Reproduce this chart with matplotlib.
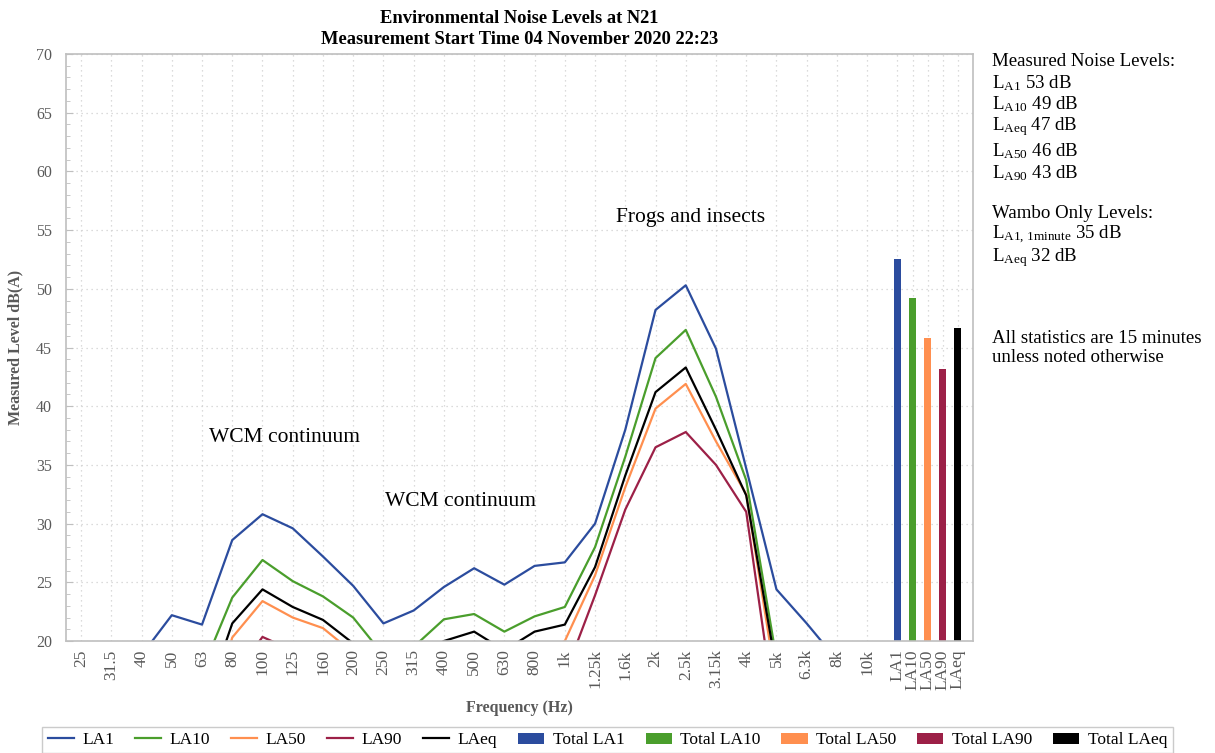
"""
Environmental noise levels at N21 - 1/3 octave spectra plus totals.
"""
import numpy as np
import matplotlib
matplotlib.use('Agg')
import matplotlib.pyplot as plt
from matplotlib.ticker import MultipleLocator

plt.rcParams['font.family'] = ['Liberation Serif', 'DejaVu Serif']
plt.rcParams['mathtext.fontset'] = 'custom'
plt.rcParams['mathtext.rm'] = 'Liberation Serif'
plt.rcParams['mathtext.it'] = 'Liberation Serif:italic'
plt.rcParams['mathtext.bf'] = 'Liberation Serif:bold'

# dados (dB(A)) por banda de 1/3 de oitava
freqs = ['25', '31.5', '40', '50', '63', '80', '100', '125', '160', '200', '250', '315',
         '400', '500', '630', '800', '1k', '1.25k', '1.6k', '2k', '2.5k', '3.15k', '4k',
         '5k', '6.3k', '8k', '10k']
la1 = [16.0, 17.2, 18.8, 22.2, 21.4, 28.6, 30.8, 29.6, 27.2, 24.7, 21.5, 22.6, 24.6, 26.2,
       24.8, 26.4, 26.7, 30.0, 38.0, 48.2, 50.3, 44.9, 34.7, 24.4, 21.5, 18.4, 16.5]
la10 = [14.5, 15.2, 16.0, 16.8, 17.5, 23.7, 26.9, 25.1, 23.8, 22.0, 18.8, 19.5, 21.85, 22.3,
        20.8, 22.1, 22.9, 28.0, 35.7, 44.1, 46.5, 40.8, 33.7, 18.5, 16.0, 14.0, 12.5]
la50 = [12.0, 12.8, 13.5, 14.0, 11.5, 20.3, 23.4, 22.0, 21.1, 19.0, 17.5, 17.2, 18.6, 19.2,
        18.0, 18.8, 20.0, 25.6, 33.1, 39.8, 41.9, 37.0, 32.5, 16.3, 13.5, 12.0, 11.0]
la90 = [10.0, 11.0, 11.5, 12.0, 13.0, 16.8, 20.35, 19.2, 18.0, 16.5, 15.0, 14.5, 15.5, 16.0,
        15.2, 16.0, 17.1, 23.9, 31.2, 36.5, 37.8, 35.0, 31.0, 13.0, 11.0, 10.0, 9.0]
laeq = [13.0, 14.0, 14.5, 14.8, 14.0, 21.5, 24.4, 22.9, 21.8, 19.8, 18.3, 18.6, 20.0, 20.8,
        19.2, 20.8, 21.4, 26.3, 34.1, 41.2, 43.3, 38.0, 32.4, 17.6, 14.5, 13.0, 12.0]

total_labels = ['LA1', 'LA10', 'LA50', 'LA90', 'LAeq']
totals = [52.5, 49.2, 45.8, 43.2, 46.7]

cores = ['#2B4C9E', '#4A9E2C', '#FF8F4F', '#9C2047', '#000000']
gray = '#595959'

fig = plt.figure(figsize=(12.15, 7.53), dpi=100)
ax = fig.add_axes([0.0543, 0.1487, 0.7465, 0.7796])

x = np.arange(len(freqs)) + 0.5
series = [('LA1', la1), ('LA10', la10), ('LA50', la50), ('LA90', la90), ('LAeq', laeq)]
handles = []
for (nome, vals), c in zip(series, cores):
    h, = ax.plot(x, vals, color=c, lw=1.6, label=nome)
    handles.append(h)

xb = len(freqs) + 0.5 + 0.5 * np.arange(len(totals))
for xi, v, nome, c in zip(xb, totals, total_labels, cores):
    b = ax.bar(xi, v, width=0.24, color=c, label='Total ' + nome)
    handles.append(b)

ax.set_xlim(0, len(freqs) + 3)
ax.set_ylim(20, 70)
ax.set_xticks(list(x) + list(xb))
ax.set_xticklabels(freqs + total_labels, rotation=90, fontsize=12.5, color=gray)
ax.tick_params(axis='x', length=0, pad=6)
ax.yaxis.set_major_locator(MultipleLocator(5))
ax.yaxis.set_minor_locator(MultipleLocator(1))
ax.tick_params(axis='y', which='both', direction='in', colors='#BFBFBF', labelcolor=gray,
               labelsize=11.5, pad=10)
ax.tick_params(axis='y', which='major', length=5)
ax.tick_params(axis='y', which='minor', length=3)
ax.grid(True, axis='both', color='#D0D0D0', linestyle=(0, (1, 3)), lw=0.9)
ax.set_axisbelow(True)
for s in ax.spines.values():
    s.set_color('#BFBFBF')
    s.set_linewidth(1.2)

ax.set_xlabel('Frequency (Hz)', fontsize=11.5, fontweight='bold', color=gray, labelpad=7)
ax.set_ylabel('Measured Level dB(A)', fontsize=11.5, fontweight='bold', color=gray, labelpad=9)
ax.set_title('Environmental Noise Levels at N21\nMeasurement Start Time 04 November 2020 22:23',
             fontsize=13.3, fontweight='bold', linespacing=1.3, pad=7)

# anotações
ax.text(4.73, 37.3, 'WCM continuum', fontsize=15.5, va='center', ha='left')
ax.text(10.55, 31.9, 'WCM continuum', fontsize=15.5, va='center', ha='left')
ax.text(18.19, 56.1, 'Frogs and insects', fontsize=15.5, va='center', ha='left')

# texto lateral
linhas = [
    ('Measured Noise Levels:', 62),
    (r'L$_{\mathrm{A1}}$ 53 dB', 83),
    (r'L$_{\mathrm{A10}}$ 49 dB', 104),
    (r'L$_{\mathrm{Aeq}}$ 47 dB', 127),
    (r'L$_{\mathrm{A50}}$ 46 dB', 151),
    (r'L$_{\mathrm{A90}}$ 43 dB', 173),
    ('Wambo Only Levels:', 213),
    (r'L$_{\mathrm{A1,\,1minute}}$ 35 dB', 235),
    (r'L$_{\mathrm{Aeq}}$ 32 dB', 258),
    ('All statistics are 15 minutes', 338),
    ('unless noted otherwise', 358),
]
for txt, ypx in linhas:
    fig.text(992 / 1215, 1 - ypx / 753, txt, fontsize=13.6, va='center', ha='left')

leg = fig.legend(handles=handles, loc='upper center', bbox_to_anchor=(0.5, 0.0345),
                 ncol=10, frameon=True, fontsize=12.5, handlelength=1.5, handleheight=0.6,
                 columnspacing=1.2, handletextpad=0.5, borderpad=0.3, borderaxespad=0,
                 fancybox=False)
leg.get_frame().set_edgecolor('#BFBFBF')

fig.savefig('out.png', dpi=100)
